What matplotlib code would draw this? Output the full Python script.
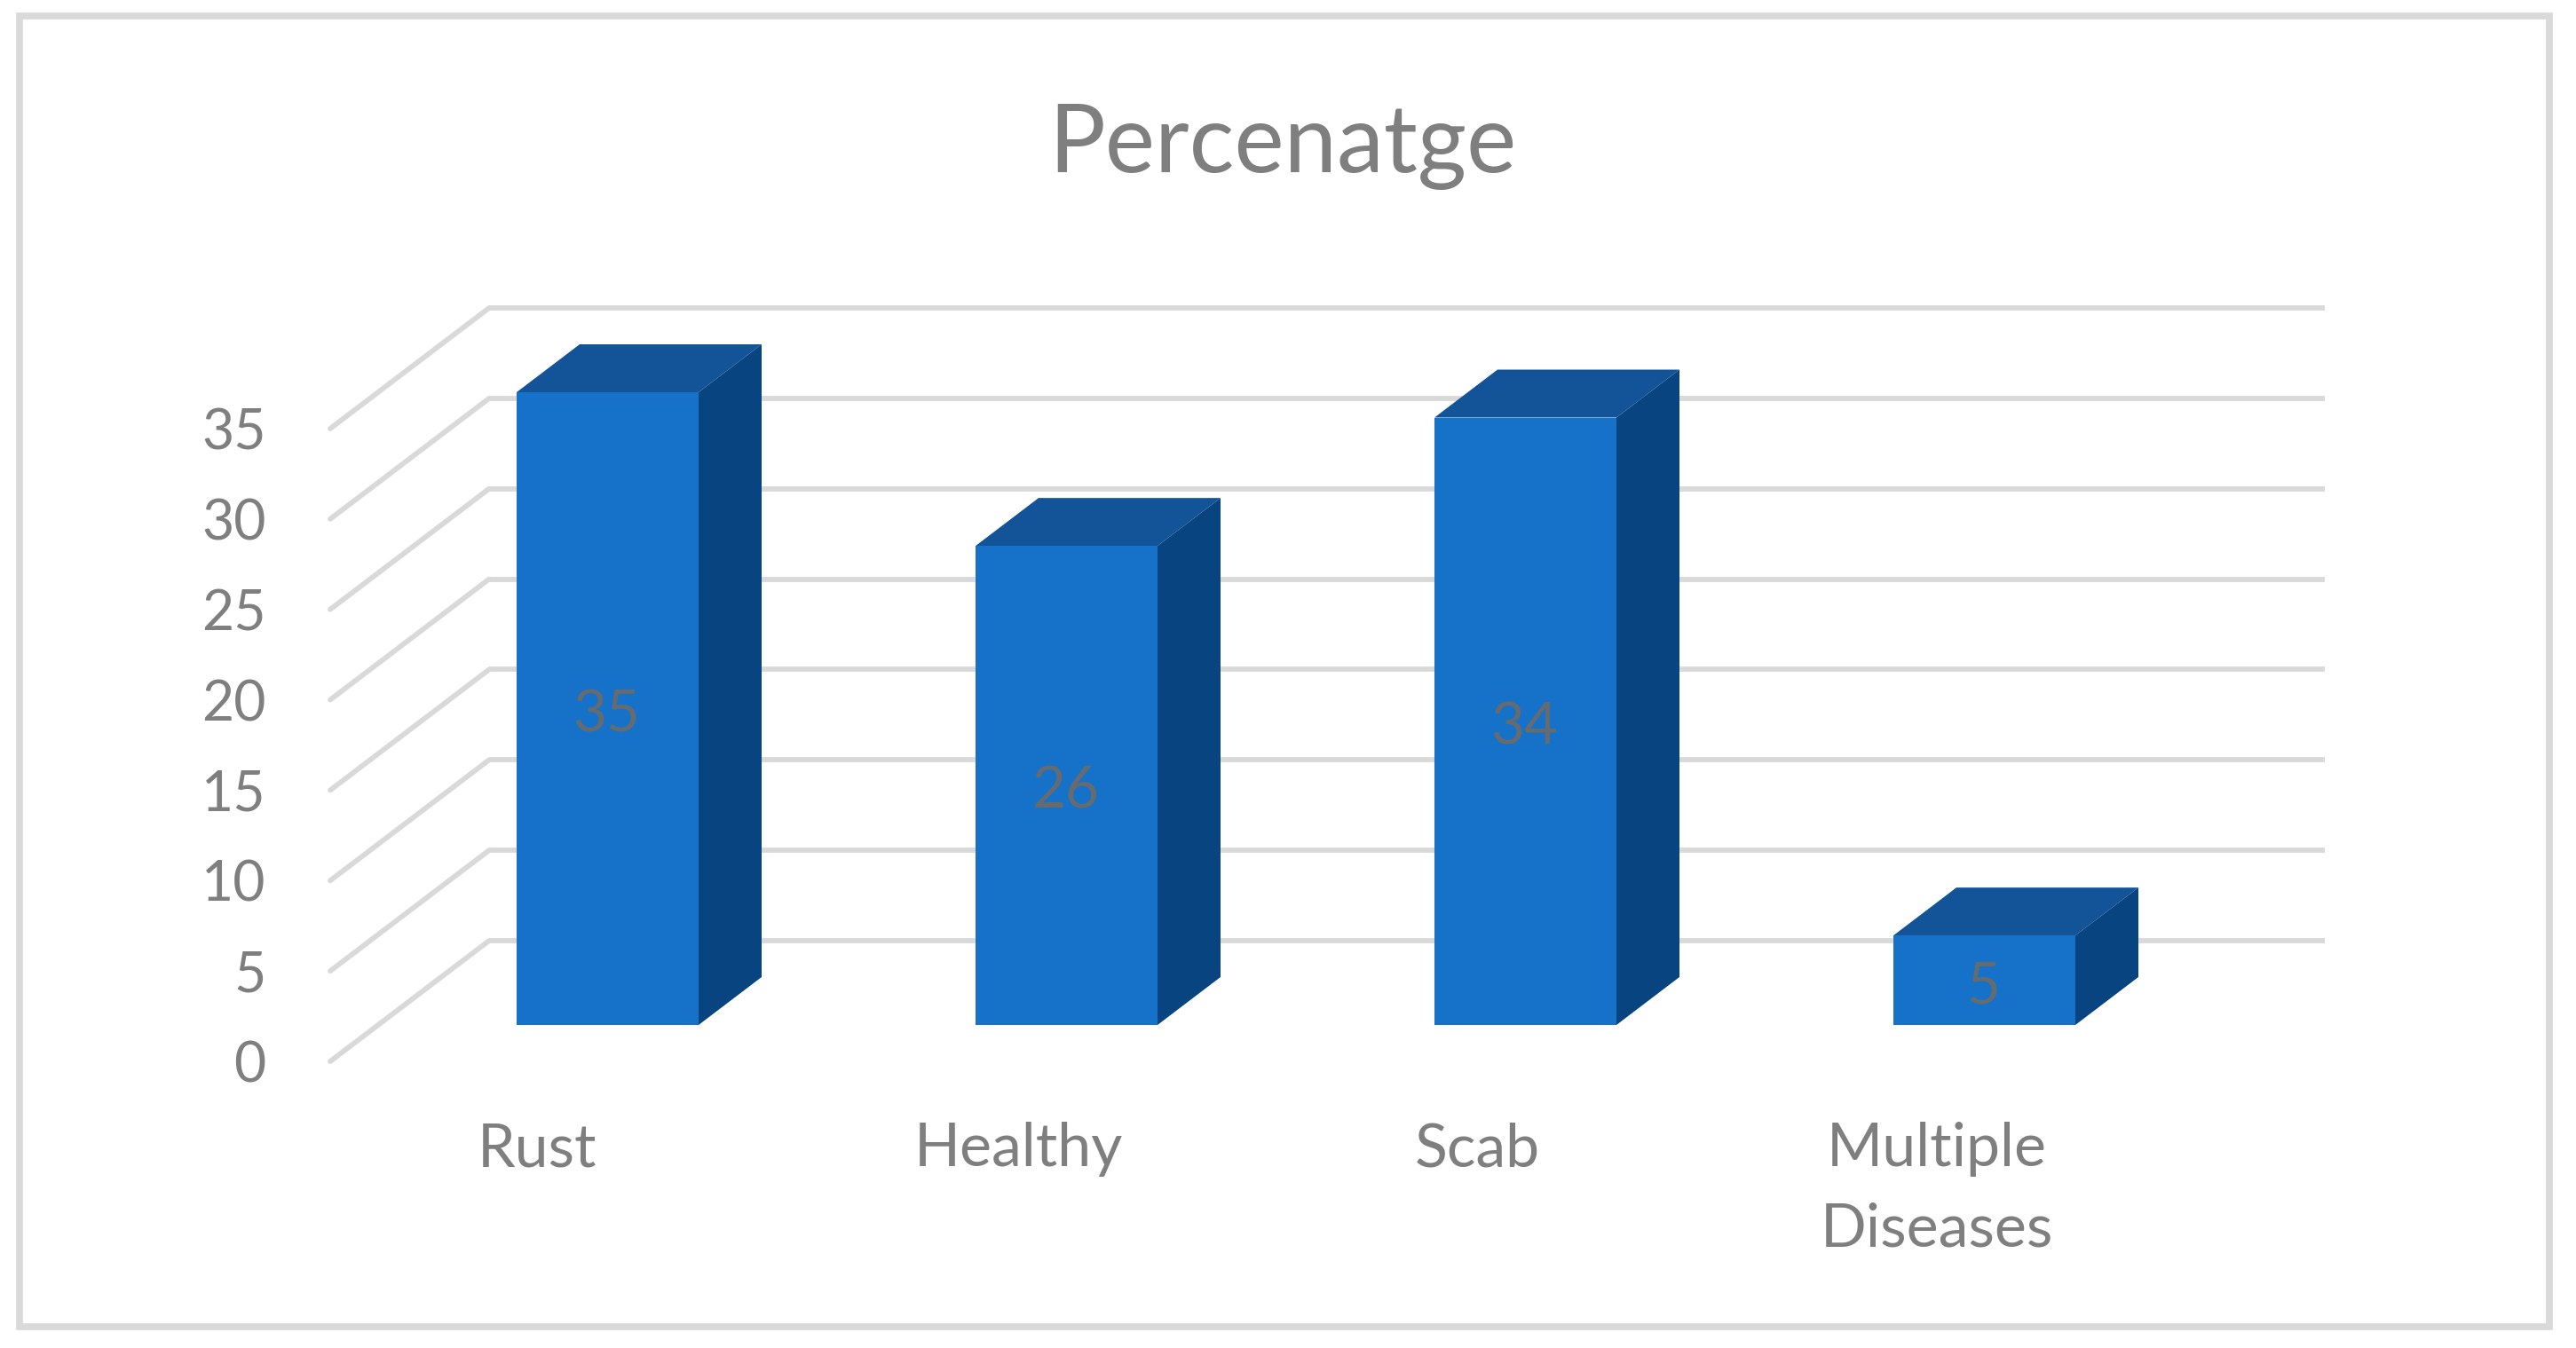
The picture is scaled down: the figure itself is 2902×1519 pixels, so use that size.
import matplotlib
matplotlib.use("Agg")
import matplotlib.pyplot as plt
from matplotlib.patches import Polygon, Rectangle
from matplotlib.transforms import Affine2D

categories = ["Rust", "Healthy", "Scab", "Multiple\nDiseases"]
bar_heights = [35, 26.5, 33.6, 4.95]   # as drawn in the picture
data_labels = [35, 26, 34, 5]          # as printed on the bars
y_ticks = [0, 5, 10, 15, 20, 25, 30, 35]
title = "Percenatge"

W, H = 2902, 1519
DPI = 100
FONT = "Lato"
GRID = "#d9d9d9"
TEXT = "#7f7f7f"
FRONT, SIDE, TOP = "#1672c9", "#08447f", "#135498"
LABEL_COLOR = "#666b70"

# pixel layout of the pseudo-3D chart
PX_L, PX_R, PX_B, PX_T = 426, 2494, 1155, 442   # bar plane
WALL = (125, 95)      # shift from bar plane to back wall
FRONT_EDGE = (-54, -41)
DEPTH = (71, 54)
NUDGE = [-25, 0, 0, 0]

fig = plt.figure(figsize=(W / DPI, H / DPI), dpi=DPI, facecolor="white")
fig.add_artist(Rectangle((22 / W, 1 - 1495 / H), (2872 - 22) / W, (1495 - 18) / H,
                         transform=fig.transFigure, fc="white", ec=GRID, lw=5.5, zorder=-5))


def make_axes(shift):
    a = fig.add_axes([(PX_L + shift[0]) / W, (H - PX_B + shift[1]) / H,
                      (PX_R - PX_L) / W, (PX_B - PX_T) / H])
    a.set_xlim(-0.5, 3.5)
    a.set_ylim(0, 35)
    a.patch.set_alpha(0)
    for s in a.spines.values():
        s.set_visible(False)
    return a


ax_front = make_axes(FRONT_EDGE)
ax = make_axes((0, 0))
ax.axis("off")

# tick labels live on the front edge of the floor
ax_front.set_yticks(y_ticks)
ax_front.set_yticklabels([str(t) for t in y_ticks], fontsize=45, color=TEXT, family=FONT)
ax_front.tick_params(axis="y", length=0, pad=52)
ax_front.set_xticks(range(len(categories)))
ax_front.set_xticklabels(categories, fontsize=49, color=TEXT, family=FONT, linespacing=1.56)
ax_front.tick_params(axis="x", length=0, pad=49)
for lab, n in zip(ax_front.get_xticklabels(), NUDGE):
    lab.set_transform(lab.get_transform() + Affine2D().translate(n, 0))

# gridlines: back wall + slanted side wall
back = ax.transData + Affine2D().translate(*WALL)
front = ax.transData + Affine2D().translate(*FRONT_EDGE)
for t in y_ticks:
    ax.plot([-0.5, 3.5], [t, t], transform=back, color=GRID, lw=4.2, clip_on=False,
            solid_capstyle="butt", zorder=1)
    p0 = front.transform((-0.5, t))
    p1 = back.transform((-0.5, t))
    ax.plot([p0[0], p1[0]], [p0[1], p1[1]], transform=None, color=GRID, lw=4.2,
            clip_on=False, solid_capstyle="round", zorder=1)

# bars
BW = 205 / 517
dx = DEPTH[0] / 517
dy = DEPTH[1] / ((PX_B - PX_T) / 35)
ax.bar(range(len(bar_heights)), bar_heights, width=BW, color=FRONT, zorder=3, clip_on=False)
for i, (v, txt) in enumerate(zip(bar_heights, data_labels)):
    l, r = i - BW / 2, i + BW / 2
    ax.add_patch(Polygon([(l, v), (r, v), (r + dx, v + dy), (l + dx, v + dy)],
                         closed=True, fc=TOP, ec="none", zorder=2, clip_on=False))
    ax.add_patch(Polygon([(r, 0), (r + dx, dy), (r + dx, v + dy), (r, v)],
                         closed=True, fc=SIDE, ec="none", zorder=2, clip_on=False))
    ax.text(i - 0.002, v / 2 - 0.35, str(txt), ha="center", va="center", fontsize=47,
            color=LABEL_COLOR, family=FONT, zorder=4)

fig.text(1445 / W, 1 - 166 / H, title, ha="center", va="center", fontsize=76.5,
         color=TEXT, family=FONT)

fig.savefig("out.png", dpi=DPI, facecolor="white")
